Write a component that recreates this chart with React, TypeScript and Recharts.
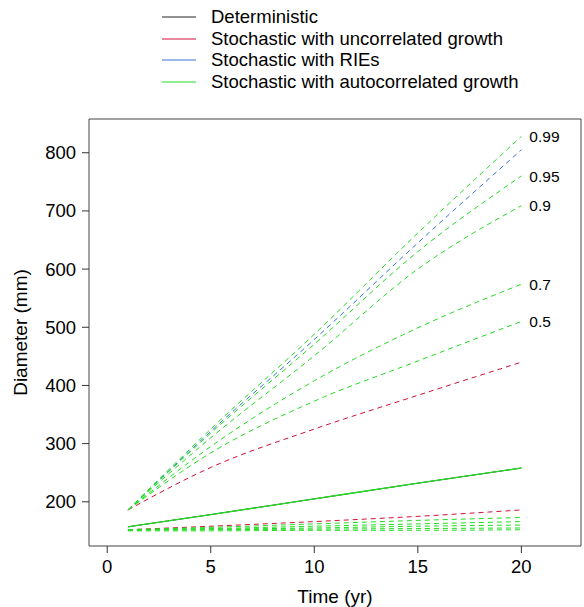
import React from 'react';
import { LineChart, Line, XAxis, YAxis, ReferenceArea, ReferenceDot, Legend } from 'recharts';

const years = [1, 5, 10, 15, 20];
const deterministic = [157, 178, 205, 232, 258];
const autoMean = [157, 178, 205, 232, 258];
const uncorrUpper = [186, 259, 325, 383, 440];
const uncorrLower = [152, 158, 166, 175, 186];
const rieUpper = [186, 321, 479, 645, 805];
const auto99 = [186, 325, 488, 662, 828];
const auto95 = [186, 318, 471, 630, 760];
const auto90 = [186, 310, 451, 600, 709];
const auto70 = [186, 295, 408, 499, 574];
const auto50 = [186, 284, 373, 442, 510];
const autoLow1 = [152, 156, 162, 168, 173];
const autoLow2 = [152, 154, 158, 162, 166];
const autoLow3 = [152, 153, 155, 158, 160];
const autoLow4 = [151, 152, 153, 154, 155];
const autoLow5 = [150, 150, 151, 151, 152];

const quantileNames = ['0.99', '0.95', '0.9', '0.7', '0.5'];
const quantileSeries = [auto99, auto95, auto90, auto70, auto50];

const xTicks = [0, 5, 10, 15, 20];
const yTicks = [200, 300, 400, 500, 600, 700, 800];
const xDomain: [number, number] = [-0.88, 22.88];
const yDomain: [number, number] = [124, 858];

const legendNames = [
  'Deterministic',
  'Stochastic with uncorrelated growth',
  'Stochastic with RIEs',
  'Stochastic with autocorrelated growth',
];
const BLACK = '#222222';
const RED = '#d0103a';
const BLUE = '#3a72d8';
const GREEN = '#22dd22';
const legendColors = [BLACK, RED, BLUE, GREEN];

const FONT = '"Liberation Sans", Arial, Helvetica, sans-serif';

const data = years.map((t, i) => ({
  t,
  det: deterministic[i],
  autoMean: autoMean[i],
  uncorrUpper: uncorrUpper[i],
  uncorrLower: uncorrLower[i],
  rieUpper: rieUpper[i],
  auto99: auto99[i],
  auto95: auto95[i],
  auto90: auto90[i],
  auto70: auto70[i],
  auto50: auto50[i],
  autoLow1: autoLow1[i],
  autoLow2: autoLow2[i],
  autoLow3: autoLow3[i],
  autoLow4: autoLow4[i],
  autoLow5: autoLow5[i],
}));

const dashedGreen = ['auto99', 'auto95', 'auto90', 'auto70', 'auto50', 'autoLow1', 'autoLow2', 'autoLow3', 'autoLow4', 'autoLow5'];

const LegendContent = () => (
  <div style={{ fontFamily: FONT, fontSize: 18.5, color: '#000' }}>
    {legendNames.map((name, i) => (
      <div key={name} style={{ display: 'flex', alignItems: 'center', height: 21.7, whiteSpace: 'nowrap' }}>
        <svg width={34} height={10} style={{ display: 'block' }}>
          <line x1={0} y1={5} x2={34} y2={5} stroke={legendColors[i]} strokeWidth={1} />
        </svg>
        <span style={{ marginLeft: 15 }}>{name}</span>
      </div>
    ))}
  </div>
);

export default function App() {
  return (
    <div style={{ position: 'fixed', left: 0, top: 0, width: 584, height: 607, background: '#fff' }}>
      <LineChart
        width={584}
        height={607}
        data={data}
        margin={{ top: 119, right: 3, left: 29, bottom: 31 }}
      >
        <XAxis
          dataKey="t"
          type="number"
          domain={xDomain}
          ticks={xTicks}
          allowDataOverflow
          height={30}
          axisLine={false}
          tickLine={{ stroke: '#333' }}
          tickSize={7}
          tickMargin={7}
          tick={{ fill: '#000', fontSize: 18.5, fontFamily: FONT }}
          label={{ value: 'Time (yr)', position: 'bottom', offset: 14, fill: '#000', fontSize: 19, fontFamily: FONT }}
        />
        <YAxis
          type="number"
          domain={yDomain}
          ticks={yTicks}
          allowDataOverflow
          width={60}
          axisLine={false}
          tickLine={{ stroke: '#333' }}
          tickSize={7}
          tickMargin={6}
          tick={{ fill: '#000', fontSize: 18.5, fontFamily: FONT }}
          label={{
            value: 'Diameter (mm)',
            angle: -90,
            position: 'insideLeft',
            offset: -9,
            fill: '#000',
            fontSize: 19,
            fontFamily: FONT,
            style: { textAnchor: 'middle' },
          }}
        />
        <ReferenceArea
          x1={xDomain[0]}
          x2={xDomain[1]}
          y1={yDomain[0]}
          y2={yDomain[1]}
          ifOverflow="visible"
          fill="none"
          fillOpacity={0}
          stroke="#444"
          strokeWidth={1}
        />
        <Legend
          layout="vertical"
          align="center"
          verticalAlign="middle"
          content={LegendContent}
          wrapperStyle={{ position: 'absolute', left: 162, top: 6, width: 400, height: 90 }}
        />
        <Line dataKey="det" type="monotone" stroke={BLACK} strokeWidth={1} dot={false} isAnimationActive={false} />
        <Line dataKey="uncorrUpper" type="monotone" stroke={RED} strokeWidth={1} strokeDasharray="5 4" dot={false} isAnimationActive={false} />
        <Line dataKey="uncorrLower" type="monotone" stroke={RED} strokeWidth={1} strokeDasharray="5 4" dot={false} isAnimationActive={false} />
        <Line dataKey="rieUpper" type="monotone" stroke={BLUE} strokeWidth={1} strokeDasharray="5 4" dot={false} isAnimationActive={false} />
        {dashedGreen.map((k) => (
          <Line key={k} dataKey={k} type="monotone" stroke={GREEN} strokeWidth={1} strokeDasharray="5 4" dot={false} isAnimationActive={false} />
        ))}
        <Line dataKey="autoMean" type="monotone" stroke={GREEN} strokeWidth={1.3} dot={false} isAnimationActive={false} />
        {quantileSeries.map((s, i) => (
          <ReferenceDot
            key={quantileNames[i]}
            x={years[years.length - 1]}
            y={s[s.length - 1]}
            r={0}
            fill="none"
            stroke="none"
            ifOverflow="visible"
            label={{ value: quantileNames[i], position: 'right', offset: 8, fill: '#000', fontSize: 15.5, fontFamily: FONT }}
          />
        ))}
      </LineChart>
    </div>
  );
}
